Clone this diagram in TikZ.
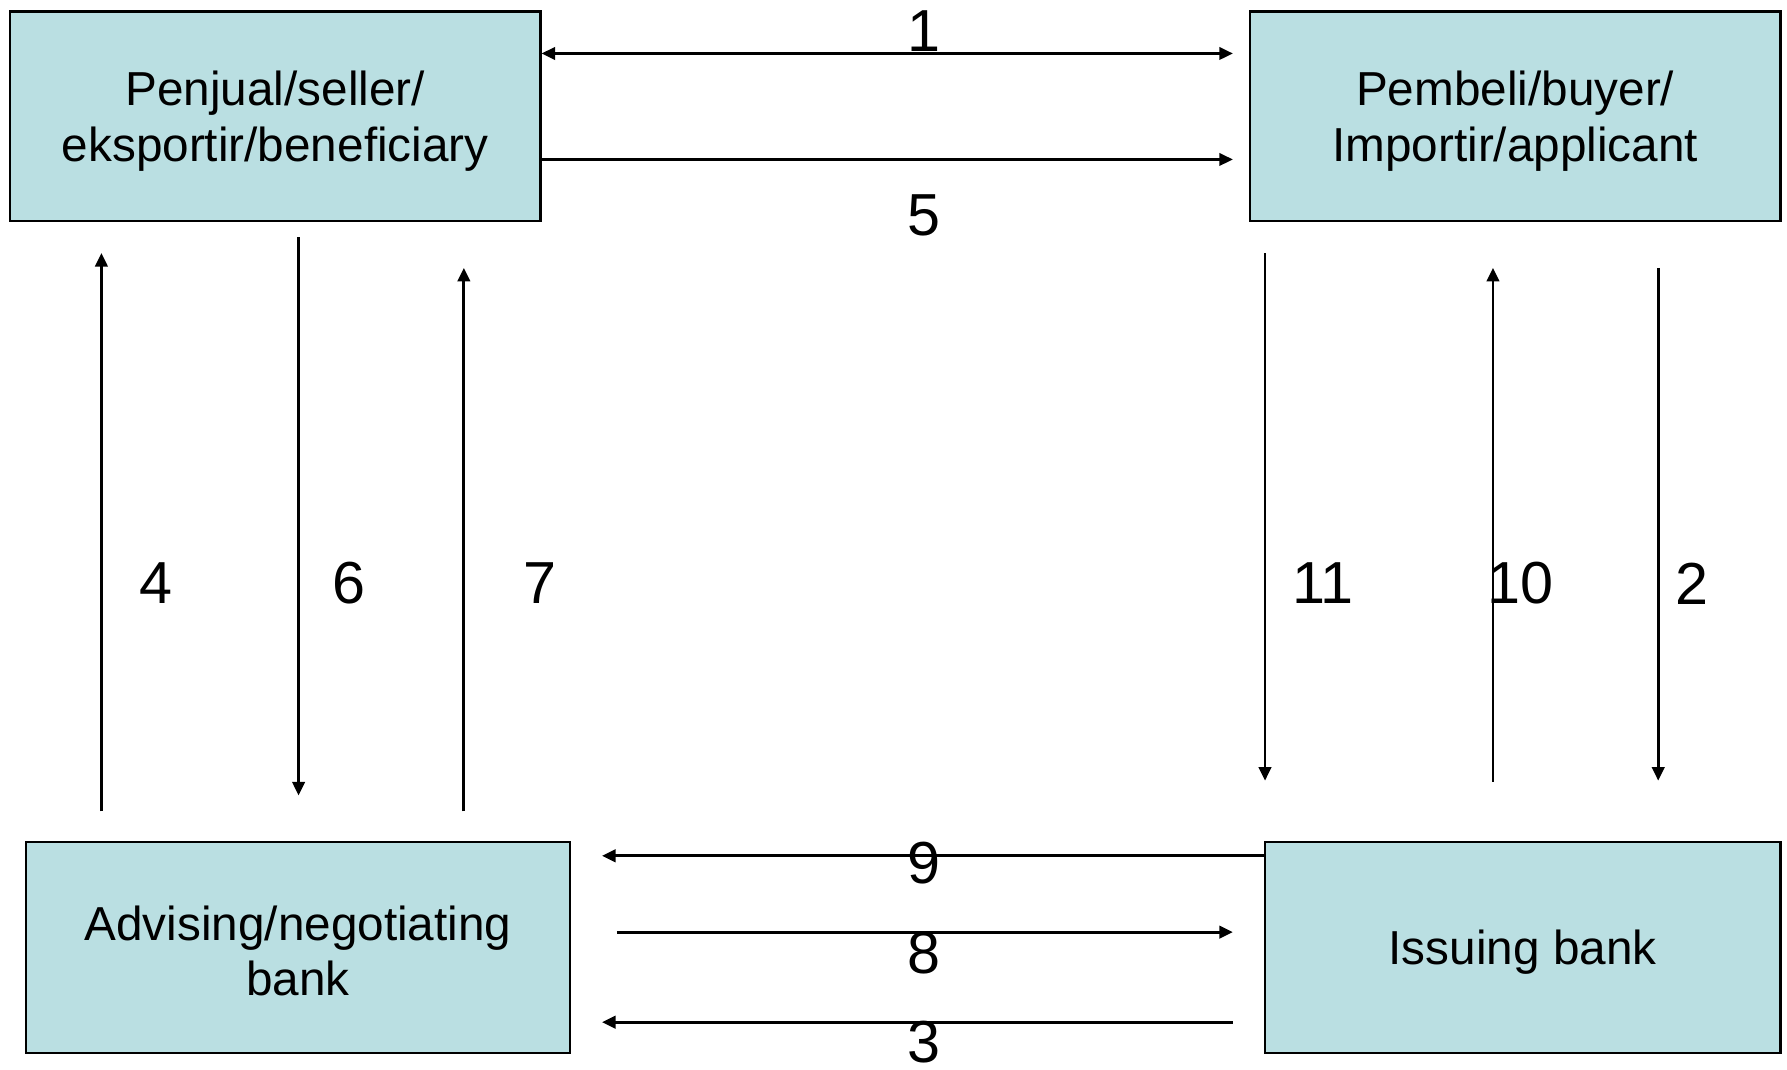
\documentclass[tikz,border=0pt]{standalone}
\usepackage{fontspec}
\setmainfont{Liberation Sans}
\usetikzlibrary{arrows.meta,calc}
\definecolor{boxfill}{RGB}{186,223,226}
\begin{document}
\begin{tikzpicture}[x=0.01cm,y=-0.01cm,
  party/.style={draw=black,line width=0.6pt,fill=boxfill,rectangle,inner sep=0pt},
  boxtext/.style={inner sep=0pt,align=center,font=\fontsize{11.9pt}{13.9pt}\selectfont},
  arr/.style={line width=0.7pt,-{Triangle[length=3.4pt,width=3.1pt]}},
  num/.style={font=\fontsize{14.8pt}{16pt}\selectfont,inner sep=0pt}]
\useasboundingbox (0,0) rectangle (1568,938);
\node[party,minimum width=4.65cm,minimum height=1.84cm] (seller) at (241.5,102) {};
\node[boxtext] (sellert) at ($(seller.center)+(0,4)$) {Penjual/seller/\\eksportir/beneficiary};
\node[party,minimum width=4.65cm,minimum height=1.84cm] (buyer) at (1329.5,102) {};
\node[boxtext] (buyert) at ($(buyer.center)+(0,4)$) {Pembeli/buyer/\\Importir/applicant};
\node[party,minimum width=4.77cm,minimum height=1.85cm] (adv) at (261.5,831.5) {};
\node[boxtext] (advt) at ($(adv.center)+(0,3)$) {Advising/negotiating\\bank};
\node[party,minimum width=4.52cm,minimum height=1.85cm] (iss) at (1336,831.5) {};
\node[boxtext] (isst) at ($(iss.center)+(0,4)$) {Issuing bank};
% horizontal top
\draw[arr,{Triangle[length=3.4pt,width=3.1pt]}-{Triangle[length=3.4pt,width=3.1pt]}]
  ($(seller.north east)+(0,38)$) -- ($(buyer.north west)+(-14,38)$);
\draw[arr] ($(seller.north east)+(0,131)$) -- ($(buyer.north west)+(-14,131)$);
\node[num] (n1) at (811,27) {1};
\node[num] (n5) at (811,189) {5};
% left verticals
\coordinate (a4s) at (89,712); \coordinate (a4e) at (89,222);
\draw[arr] (a4s) -- (a4e);
\coordinate (a6s) at (262,208); \coordinate (a6e) at (262,698);
\draw[arr] (a6s) -- (a6e);
\coordinate (a7s) at (407,712); \coordinate (a7e) at (407,235);
\draw[arr] (a7s) -- (a7e);
\node[num] (n4) at (137,512) {4};
\node[num] (n6) at (306,512) {6};
\node[num] (n7) at (474,512) {7};
% right verticals
\coordinate (a11s) at (1110,222); \coordinate (a11e) at (1110,685);
\draw[arr] (a11s) -- (a11e);
\coordinate (a10s) at (1310,686); \coordinate (a10e) at (1310,235);
\draw[arr] (a10s) -- (a10e);
\coordinate (a2s) at (1455,235); \coordinate (a2e) at (1455,685);
\draw[arr] (a2s) -- (a2e);
\node[num] (n11) at (1161,512) {11};
\node[num] (n10) at (1334,512) {10};
\node[num] (n2) at (1485,512) {2};
% bottom horizontals
\draw[arr] ($(iss.north west)+(0,13)$) -- ($(adv.north east)+(27,13)$);
\draw[arr] ($(adv.north east)+(40,80)$) -- ($(iss.north west)+(-27,80)$);
\draw[arr] ($(iss.north west)+(-27,159)$) -- ($(adv.north east)+(27,159)$);
\node[num] (n9) at (811,757) {9};
\node[num] (n8) at (811,836) {8};
\node[num] (n3) at (811,914) {3};
\end{tikzpicture}
\end{document}
